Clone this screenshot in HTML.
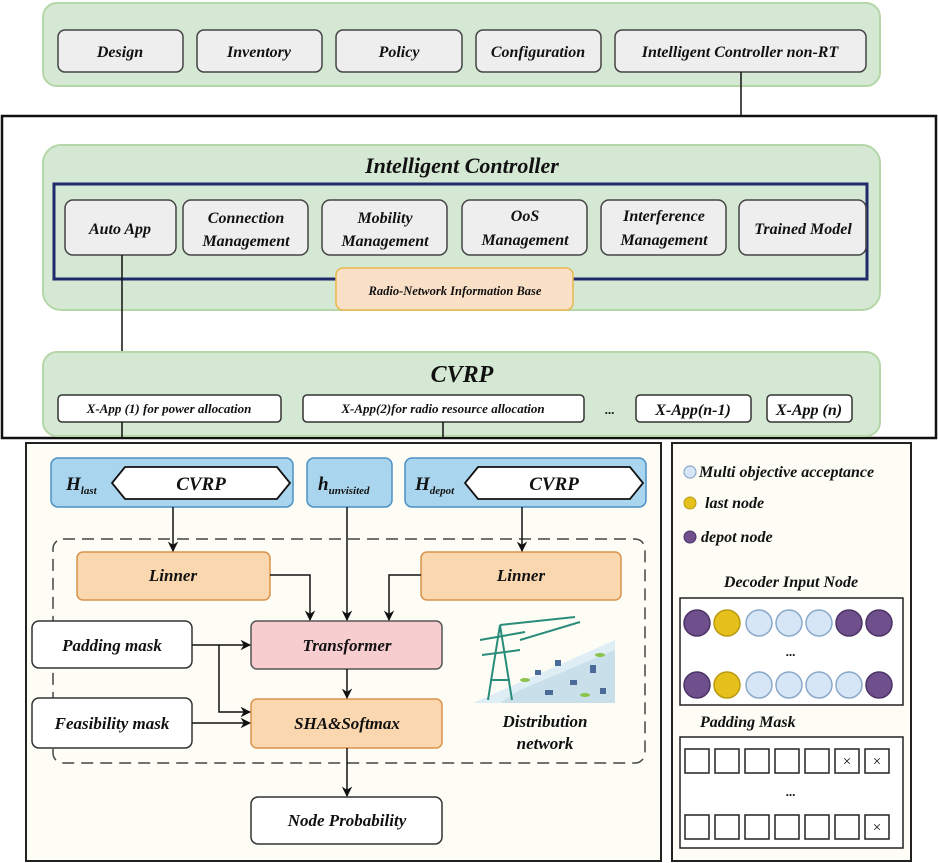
<!DOCTYPE html>
<html><head><meta charset="utf-8"><style>
html,body{margin:0;padding:0;background:#fff}
svg{display:block}
text{font-family:"Liberation Serif",serif;font-style:italic;font-weight:bold;fill:#111}
</style></head><body>
<svg width="938" height="863" viewBox="0 0 938 863" xmlns="http://www.w3.org/2000/svg">
<defs>
<marker id="a" viewBox="0 0 10 10" refX="9" refY="5" markerWidth="7" markerHeight="7" orient="auto"><path d="M0,0 L10,5 L0,10 L3,5 z" fill="#111"/></marker>
</defs>
<!-- top panel -->
<rect x="43" y="3" width="837" height="83" rx="14" fill="#d5e8d4" stroke="#b5d6a7" stroke-width="2"/>
<g fill="#eeeeee" stroke="#444" stroke-width="1.5">
<rect x="58" y="30" width="125" height="42" rx="7"/>
<rect x="197" y="30" width="125" height="42" rx="7"/>
<rect x="336" y="30" width="126" height="42" rx="7"/>
<rect x="476" y="30" width="125" height="42" rx="7"/>
<rect x="615" y="30" width="251" height="42" rx="7"/>
</g>
<g font-size="16" text-anchor="middle">
<text x="120" y="57">Design</text><text x="259" y="57">Inventory</text><text x="399" y="57">Policy</text><text x="538" y="57">Configuration</text><text x="740" y="57">Intelligent Controller non-RT</text>
</g>
<line x1="741" y1="72" x2="741" y2="116" stroke="#111" stroke-width="1.5"/>
<!-- big black box -->
<rect x="2" y="116" width="934" height="322" fill="none" stroke="#111" stroke-width="2.5"/>
<rect x="43" y="145" width="837" height="165" rx="18" fill="#d5e8d4" stroke="#b5d6a7" stroke-width="2"/>
<text x="462" y="173" font-size="22" text-anchor="middle">Intelligent Controller</text>
<rect x="54" y="184" width="813" height="95" fill="none" stroke="#1f2a6b" stroke-width="3"/>
<g fill="#eeeeee" stroke="#444" stroke-width="1.5">
<rect x="65" y="200" width="111" height="55" rx="8"/>
<rect x="183" y="200" width="125" height="55" rx="8"/>
<rect x="322" y="200" width="125" height="55" rx="8"/>
<rect x="462" y="200" width="125" height="55" rx="8"/>
<rect x="601" y="200" width="125" height="55" rx="8"/>
<rect x="739" y="200" width="127" height="55" rx="8"/>
</g>
<g font-size="16" text-anchor="middle">
<text x="120" y="234">Auto App</text>
<text x="246" y="223">Connection</text><text x="246" y="246">Management</text>
<text x="385" y="223">Mobility</text><text x="385" y="246">Management</text>
<text x="525" y="221">OoS</text><text x="525" y="245">Management</text>
<text x="664" y="221">Interference</text><text x="664" y="245">Management</text>
<text x="803" y="234">Trained Model</text>
</g>
<rect x="336" y="268" width="237" height="42" rx="7" fill="#fbe0c8" stroke="#e9b84c" stroke-width="1.5"/>
<text x="455" y="295" font-size="12.5" text-anchor="middle">Radio-Network Information Base</text>
<line x1="122" y1="255" x2="122" y2="352" stroke="#111" stroke-width="1.5"/>
<rect x="43" y="352" width="837" height="84" rx="14" fill="#d5e8d4" stroke="#b5d6a7" stroke-width="2"/>
<text x="462" y="382" font-size="24" text-anchor="middle">CVRP</text>
<g fill="#fff" stroke="#333" stroke-width="1.5">
<rect x="58" y="395" width="223" height="27" rx="4"/>
<rect x="303" y="395" width="281" height="27" rx="4"/>
<rect x="636" y="395" width="115" height="27" rx="4"/>
<rect x="767" y="395" width="85" height="27" rx="4"/>
</g>
<g text-anchor="middle">
<text x="169" y="413" font-size="13" font-weight="normal">X-App (1) for power allocation</text>
<text x="443" y="413" font-size="13" font-weight="normal">X-App(2)for radio resource allocation</text>
<text x="610" y="414" font-size="13" font-weight="normal">...</text>
<text x="693" y="415" font-size="16">X-App(n-1)</text>
<text x="809" y="415" font-size="16">X-App (n)</text>
</g>
<line x1="122" y1="422" x2="122" y2="438" stroke="#111" stroke-width="1.5"/>
<line x1="443" y1="422" x2="443" y2="438" stroke="#111" stroke-width="1.5"/>
<!-- bottom left panel -->
<rect x="26" y="443" width="635" height="418" fill="#fdfdf6" stroke="#222" stroke-width="2"/>
<g fill="#a9d6ee" stroke="#4d90c4" stroke-width="1.5">
<rect x="51" y="458" width="242" height="49" rx="7"/>
<rect x="307" y="458" width="85" height="49" rx="7"/>
<rect x="405" y="458" width="241" height="49" rx="7"/>
</g>
<g fill="#fff" stroke="#111" stroke-width="1.8">
<polygon points="125,467 277,467 290,483 277,499 125,499 112,483"/>
<polygon points="478,467 630,467 643,483 630,499 478,499 465,483"/>
</g>
<text x="66" y="490" font-size="19" font-weight="normal">H<tspan font-size="11" dy="4">last</tspan></text>
<text x="201" y="490" font-size="19" font-weight="normal" text-anchor="middle">CVRP</text>
<text x="318" y="490" font-size="19">h<tspan font-size="11" dy="4">unvisited</tspan></text>
<text x="415" y="490" font-size="19" font-weight="normal">H<tspan font-size="11" dy="4">depot</tspan></text>
<text x="554" y="490" font-size="19" font-weight="normal" text-anchor="middle">CVRP</text>
<rect x="53" y="539" width="592" height="224" rx="10" fill="none" stroke="#444" stroke-width="1.5" stroke-dasharray="12,7"/>
<g fill="#fbd7b0" stroke="#d9934a" stroke-width="1.5">
<rect x="77" y="552" width="193" height="48" rx="6"/>
<rect x="421" y="552" width="200" height="48" rx="6"/>
<rect x="251" y="699" width="191" height="49" rx="6"/>
</g>
<rect x="251" y="621" width="191" height="48" rx="6" fill="#f8cdd0" stroke="#555" stroke-width="1.5"/>
<g fill="#fff" stroke="#333" stroke-width="1.5">
<rect x="32" y="621" width="160" height="47" rx="7"/>
<rect x="32" y="698" width="160" height="50" rx="7"/>
<rect x="251" y="797" width="191" height="47" rx="7"/>
</g>
<g font-size="17" text-anchor="middle">
<text x="173" y="581">Linner</text><text x="521" y="581">Linner</text>
<text x="347" y="651">Transformer</text><text x="347" y="729">SHA&amp;Softmax</text>
<text x="112" y="651">Padding mask</text><text x="112" y="729">Feasibility mask</text>
<text x="347" y="826">Node Probability</text>
<text x="545" y="727">Distribution</text><text x="545" y="749">network</text>
</g>
<g stroke="#111" stroke-width="1.5" fill="none" marker-end="url(#a)">
<line x1="173" y1="507" x2="173" y2="551"/>
<line x1="522" y1="507" x2="522" y2="551"/>
<line x1="347" y1="507" x2="347" y2="620"/>
<polyline points="270,575 310,575 310,620"/>
<polyline points="421,575 389,575 389,620"/>
<line x1="192" y1="645" x2="250" y2="645"/>
<polyline points="219,645 219,712 250,712"/>
<line x1="192" y1="723" x2="250" y2="723"/>
<line x1="347" y1="669" x2="347" y2="698"/>
<line x1="347" y1="748" x2="347" y2="796"/>
</g>
<!-- distribution network illustration -->
<g>
<polygon points="473,703 615,640 615,703" fill="#dfeef5"/>
<polygon points="520,690 615,650 615,703 500,703" fill="#c9dfe9"/>
<g stroke="#2a8c7a" stroke-width="2" fill="none">
<line x1="488" y1="700" x2="500" y2="625"/><line x1="512" y1="700" x2="500" y2="625"/>
<line x1="480" y1="640" x2="525" y2="632"/><line x1="482" y1="655" x2="520" y2="650"/>
<line x1="490" y1="680" x2="510" y2="680"/><line x1="500" y1="625" x2="575" y2="617"/>
<line x1="520" y1="640" x2="580" y2="622"/>
</g>
<g fill="#4a6a99">
<rect x="535" y="670" width="6" height="5"/><rect x="555" y="660" width="6" height="6"/><rect x="570" y="680" width="7" height="5"/><rect x="590" y="665" width="6" height="8"/><rect x="545" y="690" width="8" height="5"/><rect x="600" y="688" width="6" height="6"/>
</g>
<g fill="#8cc34a"><ellipse cx="525" cy="680" rx="5" ry="2"/><ellipse cx="600" cy="655" rx="5" ry="2"/><ellipse cx="585" cy="695" rx="5" ry="2"/></g>
</g>
<!-- right panel -->
<rect x="672" y="443" width="239" height="418" fill="#fdfdf6" stroke="#222" stroke-width="2"/>
<circle cx="690" cy="472" r="6" fill="#d6e6f7" stroke="#8aa9c9" stroke-width="1.2"/>
<circle cx="690" cy="503" r="6" fill="#e6c11c" stroke="#b99a10" stroke-width="1"/>
<circle cx="690" cy="537" r="6" fill="#6f4f8c" stroke="#4b3466" stroke-width="1"/>
<g font-size="16">
<text x="699" y="477">Multi objective acceptance</text>
<text x="705" y="508">last node</text>
<text x="701" y="542">depot node</text>
<text x="791" y="587" text-anchor="middle">Decoder Input Node</text>
<text x="700" y="727">Padding Mask</text>
</g>
<rect x="680" y="598" width="223" height="107" fill="#fff" stroke="#222" stroke-width="1.5"/>
<g stroke-width="1.5">
<circle cx="697" cy="623" r="13" fill="#6f4f8c" stroke="#4b3466"/>
<circle cx="727" cy="623" r="13" fill="#e6c11c" stroke="#b99a10"/>
<circle cx="759" cy="623" r="13" fill="#d6e6f7" stroke="#8aa9c9"/>
<circle cx="789" cy="623" r="13" fill="#d6e6f7" stroke="#8aa9c9"/>
<circle cx="819" cy="623" r="13" fill="#d6e6f7" stroke="#8aa9c9"/>
<circle cx="849" cy="623" r="13" fill="#6f4f8c" stroke="#4b3466"/>
<circle cx="879" cy="623" r="13" fill="#6f4f8c" stroke="#4b3466"/>
<circle cx="697" cy="685" r="13" fill="#6f4f8c" stroke="#4b3466"/>
<circle cx="727" cy="685" r="13" fill="#e6c11c" stroke="#b99a10"/>
<circle cx="759" cy="685" r="13" fill="#d6e6f7" stroke="#8aa9c9"/>
<circle cx="789" cy="685" r="13" fill="#d6e6f7" stroke="#8aa9c9"/>
<circle cx="819" cy="685" r="13" fill="#d6e6f7" stroke="#8aa9c9"/>
<circle cx="849" cy="685" r="13" fill="#d6e6f7" stroke="#8aa9c9"/>
<circle cx="879" cy="685" r="13" fill="#6f4f8c" stroke="#4b3466"/>
</g>
<text x="791" y="656" font-size="13" font-weight="normal" text-anchor="middle">...</text>
<rect x="680" y="737" width="223" height="111" fill="#fff" stroke="#222" stroke-width="1.5"/>
<g fill="#fff" stroke="#222" stroke-width="1.5">
<rect x="685" y="749" width="24" height="24"/><rect x="715" y="749" width="24" height="24"/><rect x="745" y="749" width="24" height="24"/><rect x="775" y="749" width="24" height="24"/><rect x="805" y="749" width="24" height="24"/><rect x="835" y="749" width="24" height="24"/><rect x="865" y="749" width="24" height="24"/>
<rect x="685" y="815" width="24" height="24"/><rect x="715" y="815" width="24" height="24"/><rect x="745" y="815" width="24" height="24"/><rect x="775" y="815" width="24" height="24"/><rect x="805" y="815" width="24" height="24"/><rect x="835" y="815" width="24" height="24"/><rect x="865" y="815" width="24" height="24"/>
</g>
<g font-size="15" font-weight="normal" font-style="normal" text-anchor="middle">
<text x="847" y="766" style="font-style:normal;font-weight:normal">×</text>
<text x="877" y="766" style="font-style:normal;font-weight:normal">×</text>
<text x="877" y="832" style="font-style:normal;font-weight:normal">×</text>
</g>
<text x="791" y="796" font-size="13" font-weight="normal" text-anchor="middle">...</text>
</svg>
</body></html>
